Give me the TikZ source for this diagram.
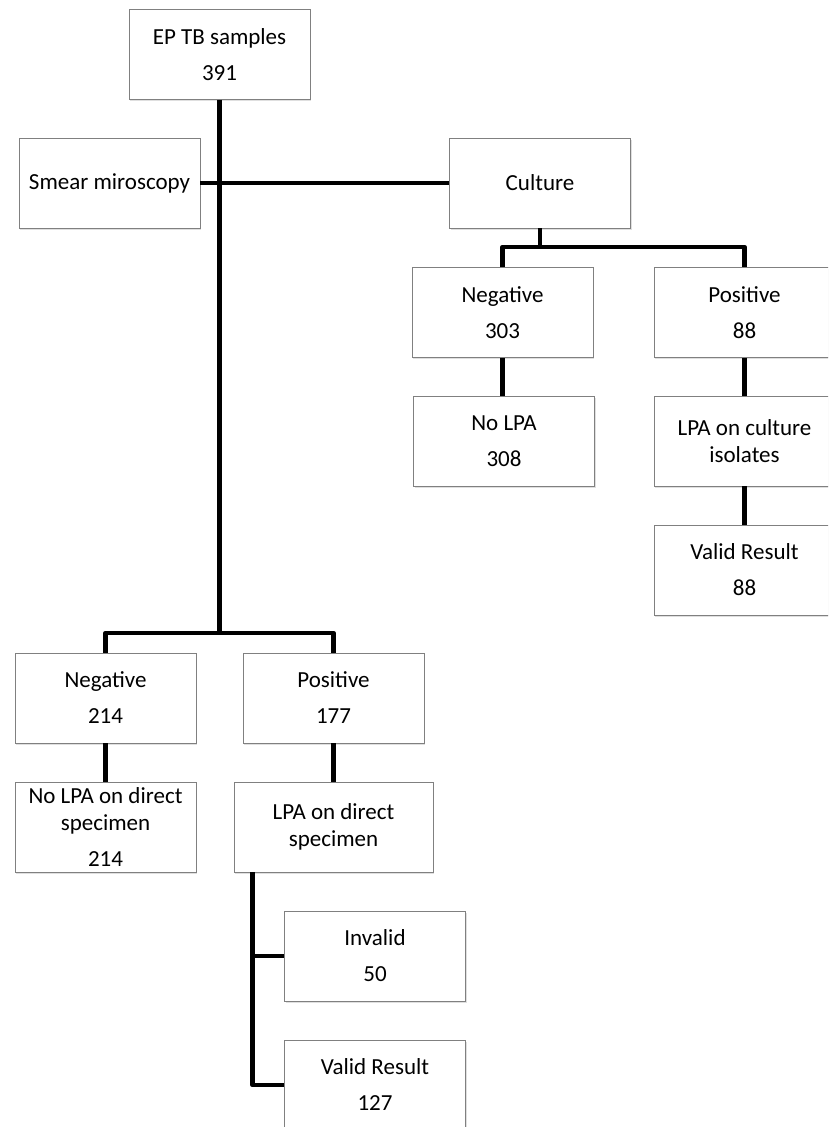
\documentclass[tikz,border=0pt]{standalone}
\usepackage{fontspec}
\setmainfont{Carlito}
\usetikzlibrary{shadows}
\tikzset{
  box/.style={draw=black!50, line width=0.9pt, fill=white, minimum width=181pt, minimum height=90pt,
    inner sep=0pt, align=center, font=\fontsize{23}{27}\selectfont,
    drop shadow={opacity=0.25, shadow xshift=1.2pt, shadow yshift=-1.8pt}},
  conn/.style={draw=black, line width=4.5pt, line join=round},
}
\begin{document}
\begin{tikzpicture}[x=1pt,y=-1pt]
\useasboundingbox (0,0) rectangle (828,1127);
\fill[white] (0,0) rectangle (828,1127);
\clip (0,0) rectangle (828,1127);
% nodes
\node[box] (ep) at (219.5,54.5) {EP TB samples\\[9pt]391};
\node[box] (smear) at (109.5,183) {Smear miroscopy};
\node[box] (culture) at (540,183) {Culture};
\node[box] (neg303) at (502.5,312.5) {Negative\\[9pt]303};
\node[box] (pos88) at (744.5,312.5) {Positive\\[9pt]88};
\node[box] (nolpa) at (504,441) {No LPA\\[9pt]308};
\node[box] (lpacult) at (744.5,441) {LPA on culture\\isolates};
\node[box] (valid88) at (744.5,570) {Valid Result\\[9pt]88};
\node[box] (neg214) at (105.5,698) {Negative\\[9pt]214};
\node[box] (pos177) at (333.5,698) {Positive\\[9pt]177};
\node[box] (nolpad) at (105.5,827) {No LPA on direct\\specimen\\[9pt]214};
\node[box, minimum width=199pt] (lpad) at (333.5,827) {LPA on direct\\specimen};
\node[box] (inv) at (375,956) {Invalid\\[9pt]50};
\node[box] (val127) at (375,1085) {Valid Result\\[9pt]127};
% junctions
\coordinate (j1) at (219,633);
\coordinate (j2) at (541,247);
% connectors
\draw[conn] (ep.south) -- (ep.south |- j1);
\draw[conn] (smear.east) -- (smear.east -| culture.west);
\draw[conn] (neg214.north) |- (j1) -| (pos177.north);
\draw[conn] (culture.south) -- (culture.south |- j2);
\draw[conn] (neg303.north) |- (j2) -| (pos88.north);
\draw[conn] (neg303.south) -- (neg303.south |- nolpa.north);
\draw[conn] (pos88.south) -- (lpacult.north);
\draw[conn] (lpacult.south) -- (valid88.north);
\draw[conn] (neg214.south) -- (nolpad.north);
\draw[conn] (pos177.south) -- (lpad.north);
\draw[conn] ([xshift=19pt]lpad.south west) |- (inv.west);
\draw[conn] ([xshift=19pt]lpad.south west) |- (val127.west);
\end{tikzpicture}
\end{document}
